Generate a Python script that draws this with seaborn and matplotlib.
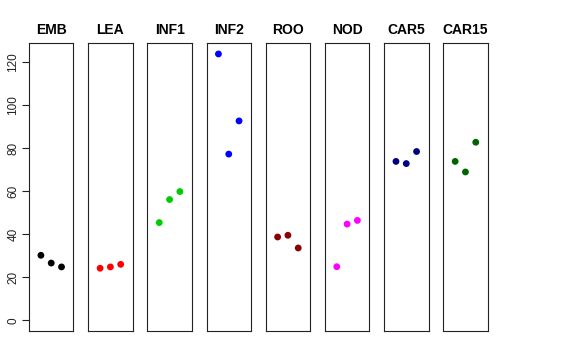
import matplotlib
matplotlib.use("Agg")
import matplotlib.pyplot as plt
import seaborn as sns
import pandas as pd

groups = ["EMB", "LEA", "INF1", "INF2", "ROO", "NOD", "CAR5", "CAR15"]
colors = ["#000000", "#FF0000", "#00CD00", "#0000FF",
          "#8B0000", "#FF00FF", "#000080", "#006400"]
replicate = [1, 2, 3]
values = {
    "EMB": [30.2, 26.6, 24.8],
    "LEA": [24.2, 24.8, 26.0],
    "INF1": [45.4, 56.1, 59.8],
    "INF2": [123.7, 77.2, 92.6],
    "ROO": [38.7, 39.5, 33.6],
    "NOD": [24.9, 44.7, 46.4],
    "CAR5": [73.8, 72.8, 78.4],
    "CAR15": [73.8, 68.9, 82.7],
}
yticks = [0, 20, 40, 60, 80, 100, 120]

sns.set_style("white")
plt.rcParams["font.family"] = ["Liberation Sans", "DejaVu Sans"]
plt.rcParams["text.color"] = "black"
plt.rcParams["axes.labelcolor"] = "black"
plt.rcParams["ytick.color"] = "black"

rows = []
for g in groups:
    for r, v in zip(replicate, values[g]):
        rows.append({"group": g, "rep": r, "value": v})
df = pd.DataFrame(rows)

ymax = df["value"].max()
ylim = (-0.04 * ymax, 1.04 * ymax)

fig, axes = plt.subplots(1, len(groups), figsize=(5.76, 3.6), dpi=100, sharey=True)
fig.subplots_adjust(left=0.0503, right=0.8467, bottom=0.0806, top=0.8797, wspace=0.33)

for ax, g, c in zip(axes, groups, colors):
    sub = df[df["group"] == g]
    sns.scatterplot(data=sub, x="rep", y="value", color=c, s=24,
                    edgecolor="none", ax=ax, legend=False)
    ax.set_xlim(-0.16, 4.16)
    ax.set_ylim(*ylim)
    ax.set_xticks([])
    ax.set_xlabel("")
    ax.set_ylabel("")
    ax.set_title(g, fontsize=10, fontweight="bold", pad=7, color="black")
    for sp in ax.spines.values():
        sp.set_visible(True)
        sp.set_color("#222222")
        sp.set_linewidth(0.8)

axes[0].set_yticks(yticks)
axes[0].tick_params(axis="y", left=True, length=5, width=0.8, labelsize=8.5,
                    labelrotation=90, pad=2, color="#222222", labelcolor="#222222")
for lab in axes[0].get_yticklabels():
    lab.set_va("center")
for ax in axes[1:]:
    ax.tick_params(axis="y", left=False, labelleft=False)

fig.savefig("out.png", dpi=100)
